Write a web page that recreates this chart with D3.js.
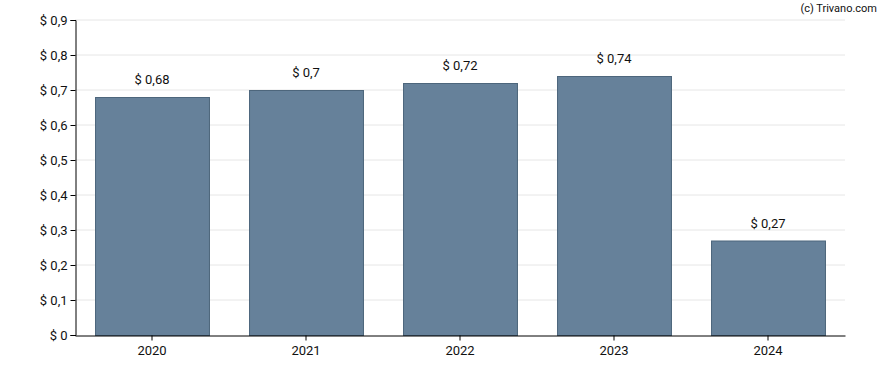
<!DOCTYPE html>
<meta charset="utf-8">
<html>
<head>
  <script src="https://d3js.org/d3.v7.min.js"></script>
  <style>
    body { margin: 0; background: #fff; }
    text { font-family: Roboto, sans-serif; }
  </style>
</head>
<body>
  <svg></svg>
  <script type="text/javascript">
    // chart values
    var years = ['2020', '2021', '2022', '2023', '2024']
    var dividends = [0.68, 0.70, 0.72, 0.74, 0.27]
    var yTicks = [0, 0.1, 0.2, 0.3, 0.4, 0.5, 0.6, 0.7, 0.8, 0.9]

    const width = 888
    const height = 370
    const margin = { top: 20, right: 43, bottom: 35, left: 75 }

    const svg = d3.select('svg')
      .attr('width', width)
      .attr('height', height)

    // numbers in the picture use a comma as decimal mark
    function money(v) {
      return '$ ' + String(+v.toFixed(2)).replace('.', ',')
    }

    var x = d3.scaleBand()
      .domain(years)
      .range([margin.left, width - margin.right])
      .paddingInner(0.26)
      .paddingOuter(0.13)

    var y = d3.scaleLinear()
      .domain([0, 0.9])
      .range([height - margin.bottom, margin.top])

    // grid
    svg.append('g')
      .selectAll('line')
      .data(yTicks.slice(1))
      .enter().append('line')
      .attr('x1', margin.left)
      .attr('x2', width - margin.right)
      .attr('y1', d => y(d))
      .attr('y2', d => y(d))
      .attr('stroke', '#e6e6e6')
      .attr('stroke-width', 1)

    // bars
    svg.append('g')
      .selectAll('rect')
      .data(dividends)
      .enter().append('rect')
      .attr('x', (d, i) => x(years[i]) + 0.5)
      .attr('y', d => y(d) + 0.5)
      .attr('width', x.bandwidth())
      .attr('height', d => y(0) - y(d))
      .attr('fill', '#66819a')
      .attr('stroke', '#4d667c')
      .attr('stroke-width', 1)

    // value labels
    svg.append('g')
      .selectAll('text')
      .data(dividends)
      .enter().append('text')
      .attr('x', (d, i) => x(years[i]) + x.bandwidth() / 2)
      .attr('y', d => y(d) - 13)
      .attr('text-anchor', 'middle')
      .attr('font-size', 13)
      .attr('fill', '#111')
      .text(d => money(d))

    // axes
    var yAxis = d3.axisLeft(y)
      .tickValues(yTicks)
      .tickSize(5)
      .tickFormat(d => money(d))
    var gy = svg.append('g')
      .attr('transform', 'translate(' + (margin.left + 0.5) + ',0)')
      .call(yAxis)
    gy.select('.domain').attr('stroke', '#000')
    gy.selectAll('text').attr('font-size', 13).attr('fill', '#111')
      .attr('font-family', 'Roboto, sans-serif')

    var xAxis = d3.axisBottom(x).tickSize(5).tickSizeOuter(0)
    var gx = svg.append('g')
      .attr('transform', 'translate(0,' + (y(0) + 0.5) + ')')
      .call(xAxis)
    gx.select('.domain').attr('stroke', '#000')
    gx.selectAll('text').attr('font-size', 13).attr('fill', '#111')
      .attr('font-family', 'Roboto, sans-serif').attr('dy', '0.9em')

    // credit
    svg.append('text')
      .attr('x', width - 11)
      .attr('y', 12)
      .attr('text-anchor', 'end')
      .attr('font-size', 11)
      .attr('fill', '#111')
      .text('(c) Trivano.com')
  </script>
</body>
</html>
